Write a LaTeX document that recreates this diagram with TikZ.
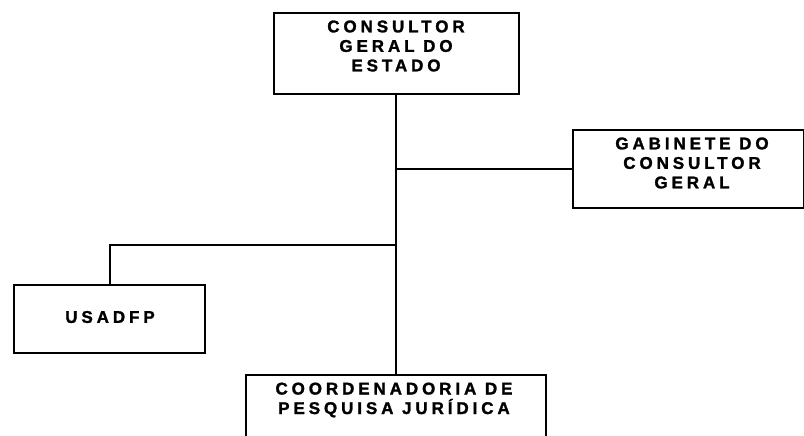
\documentclass[tikz,border=0pt]{standalone}
\usepackage{fontspec}
\setmainfont{Liberation Sans}[LetterSpace=23,FakeBold=1.5]
\begin{document}
\begin{tikzpicture}[x=1pt,y=-1pt,
  box/.style={draw=black,line width=1.8pt,rectangle,inner sep=0pt,anchor=north west},
  lbl/.style={font=\bfseries\fontsize{17}{19.5}\selectfont,align=center,inner sep=0pt},
  conn/.style={draw=black,line width=2pt}]
\useasboundingbox (0,0) rectangle (804,436);
\clip (0,0) rectangle (804,436);
\node[box,minimum width=245pt,minimum height=81pt] (cg) at (273,12) {};
\node[box,minimum width=231pt,minimum height=78pt] (gab) at (572,129) {};
\node[box,minimum width=191pt,minimum height=68pt] (usa) at (13,284) {};
\node[box,minimum width=300pt,minimum height=80pt] (cpj) at (245,374) {};
\node[lbl] (tcg) at (396,46) {CONSULTOR\\GERAL DO\\ESTADO};
\node[lbl] (tgab) at (692,163) {GABINETE DO\\CONSULTOR\\GERAL};
\node[lbl] (tusa) at (110,317) {USADFP};
\node[lbl] (tcpj) at (394,400) {COORDENADORIA DE\\PESQUISA JURÍDICA};
\coordinate (j1) at (cg.south |- gab.west);
\coordinate (j2) at (cg.south |- 0,245);
\draw[conn] (cg.south) -- (cpj.north -| cg.south);
\draw[conn] (j1) -- (gab.west);
\draw[conn] (j2) -| (usa.north -| 110,0);
\end{tikzpicture}
\end{document}
